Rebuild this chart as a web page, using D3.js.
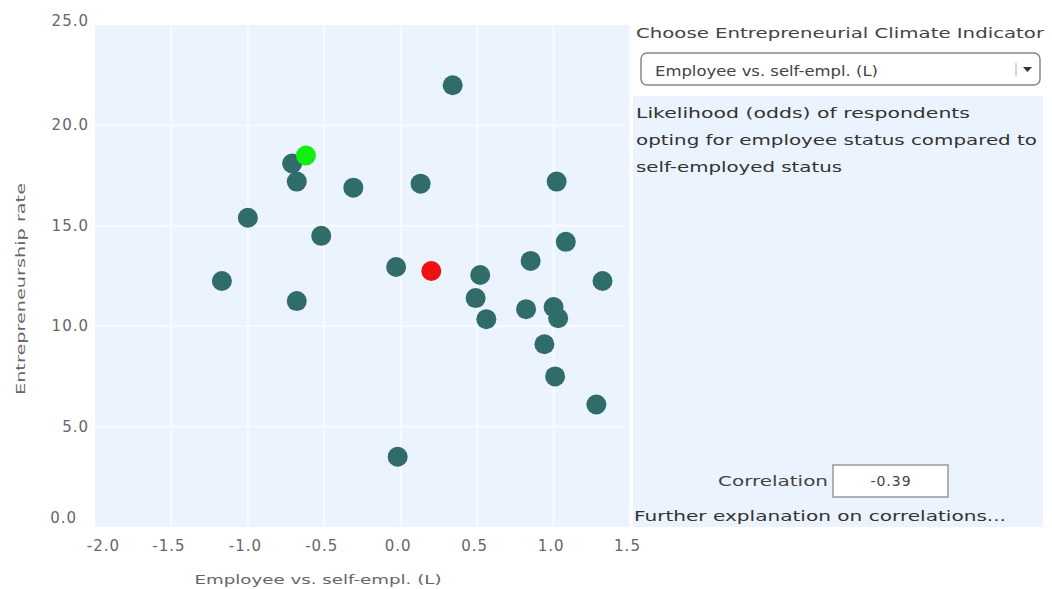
<!DOCTYPE html>
<html>
<head>
<meta charset="utf-8">
<script src="https://cdn.jsdelivr.net/npm/d3@7"></script>
<style>
  body { margin: 0; background: #fff; }
  text { font-family: Verdana, "DejaVu Sans", sans-serif; }
</style>
</head>
<body>
<svg id="chart" width="1052" height="589"></svg>
<script>
// values
const empVsSelf = [0.34, -0.62, -0.71, -0.68, -0.31, 0.13, 1.02, -1.0, -0.52, 1.08, -1.17, -0.03, 0.20, 0.52,
  0.85, 1.32, -0.68, 0.49, 0.56, 0.82, 1.0, 1.03, 0.94, 1.01, 1.28, -0.02];
const entRate = [22.0, 18.5, 18.1, 17.2, 16.9, 17.1, 17.2, 15.4, 14.5, 14.2, 12.25, 12.95, 12.75, 12.55,
  13.25, 12.25, 11.25, 11.4, 10.35, 10.85, 10.95, 10.4, 9.1, 7.5, 6.1, 3.5];
// 0 = country, 1 = selected, 2 = average
const pointKind = [0, 1, 0, 0, 0, 0, 0, 0, 0, 0, 0, 0, 2, 0, 0, 0, 0, 0, 0, 0, 0, 0, 0, 0, 0, 0];
const xTicks = [-2.0, -1.5, -1.0, -0.5, 0.0, 0.5, 1.0, 1.5];
const yTicks = [0, 5, 10, 15, 20, 25];
const correlation = "-0.39";
const indicatorName = "Employee vs. self-empl. (L)";
const descLines = ["Likelihood (odds) of respondents", "opting for employee status compared to", "self-employed status"];

const kindColor = ["#2f6c6a", "#11ee11", "#ee1111"];

const svg = d3.select("#chart");
const x = d3.scaleLinear().domain([-2, 1.5]).range([95, 630]);
const y = d3.scaleLinear().domain([0, 25]).range([527, 25]);

// plot background
svg.append("rect")
  .attr("x", x(-2)).attr("y", y(25))
  .attr("width", x(1.5) - x(-2)).attr("height", y(0) - y(25))
  .attr("fill", "#eaf3fe");

// grid
svg.append("g").selectAll("line").data(xTicks.slice(1)).join("line")
  .attr("x1", d => x(d)).attr("x2", d => x(d))
  .attr("y1", y(25)).attr("y2", y(0))
  .attr("stroke", "#f9fbff").attr("stroke-width", 2);
svg.append("g").selectAll("line").data(yTicks.slice(1, -1)).join("line")
  .attr("x1", x(-2)).attr("x2", x(1.5) - 6)
  .attr("y1", d => y(d)).attr("y2", d => y(d))
  .attr("stroke", "#f9fbff").attr("stroke-width", 2);

const fmt = d => d.toFixed(1);

// axes (labels only)
const xAxis = svg.append("g")
  .attr("transform", `translate(0,${y(0)})`)
  .call(d3.axisBottom(x).tickValues(xTicks).tickFormat(fmt).tickSize(0).tickPadding(13));
xAxis.select(".domain").remove();
xAxis.selectAll("text").attr("fill", "#666").style("font-size", "15px").style("letter-spacing", "1px")
  .attr("dx", d => d === -2 ? 8 : -3);

const yAxis = svg.append("g")
  .attr("transform", `translate(${x(-2) - 4},0)`)
  .call(d3.axisLeft(y).tickValues(yTicks).tickFormat(fmt).tickSize(0).tickPadding(2));
yAxis.select(".domain").remove();
yAxis.selectAll("text").attr("fill", "#666").style("font-size", "15px").style("letter-spacing", "1px")
  .attr("dx", d => d === 0 ? -12 : 0)
  .attr("dy", d => d === 0 ? "-0.3em" : d === 25 ? "0.05em" : "0.3em");

// axis titles
svg.append("text")
  .attr("x", 318).attr("y", 584)
  .attr("text-anchor", "middle").attr("fill", "#666").style("font-size", "13px")
  .attr("textLength", 247).attr("lengthAdjust", "spacingAndGlyphs")
  .text(indicatorName);
svg.append("text")
  .attr("transform", "translate(25,289) rotate(-90)")
  .attr("text-anchor", "middle").attr("fill", "#666").style("font-size", "13px")
  .attr("textLength", 212).attr("lengthAdjust", "spacingAndGlyphs")
  .text("Entrepreneurship rate");

// points
const pts = empVsSelf.map((v, i) => ({x: v, y: entRate[i], k: pointKind[i]}));
svg.append("g").selectAll("circle")
  .data(pts.filter(d => d.k === 0).concat(pts.filter(d => d.k !== 0)))
  .join("circle")
  .attr("cx", d => x(d.x)).attr("cy", d => y(d.y))
  .attr("r", 10)
  .attr("fill", d => kindColor[d.k]);

// right panel
const panel = svg.append("g");
panel.append("rect").attr("x", 633).attr("y", 96).attr("width", 410).attr("height", 431).attr("fill", "#ebf4fe");
panel.append("text").attr("x", 636).attr("y", 38).attr("fill", "#444").style("font-size", "14px")
  .attr("textLength", 408).attr("lengthAdjust", "spacingAndGlyphs")
  .text("Choose Entrepreneurial Climate Indicator");

panel.append("rect").attr("x", 641).attr("y", 53).attr("width", 399).attr("height", 32).attr("rx", 6)
  .attr("fill", "#fff").attr("stroke", "#888").attr("stroke-width", 1.5);
panel.append("text").attr("x", 655).attr("y", 76).attr("fill", "#444").style("font-size", "14px")
  .attr("textLength", 223).attr("lengthAdjust", "spacingAndGlyphs")
  .text(indicatorName);
panel.append("line").attr("x1", 1016).attr("x2", 1016).attr("y1", 63).attr("y2", 76).attr("stroke", "#aaa");
panel.append("path").attr("d", "M1023,67 L1032,67 L1027.5,72 Z").attr("fill", "#333");

panel.selectAll("text.desc").data(descLines).join("text")
  .attr("class", "desc")
  .attr("x", 636).attr("y", (d, i) => 118 + i * 27)
  .attr("fill", "#333").style("font-size", "14px")
  .attr("textLength", (d, i) => [334, 401, 206][i]).attr("lengthAdjust", "spacingAndGlyphs")
  .text(d => d);

panel.append("text").attr("x", 828).attr("y", 486).attr("text-anchor", "end")
  .attr("fill", "#444").style("font-size", "14px")
  .attr("textLength", 110).attr("lengthAdjust", "spacingAndGlyphs")
  .text("Correlation");
panel.append("rect").attr("x", 833).attr("y", 465).attr("width", 115).attr("height", 32)
  .attr("fill", "#fff").attr("stroke", "#999").attr("stroke-width", 1.5);
panel.append("text").attr("x", 891).attr("y", 486).attr("text-anchor", "middle")
  .attr("fill", "#444").style("font-size", "14px").style("letter-spacing", "1px").text(correlation);
panel.append("text").attr("x", 634).attr("y", 521).attr("fill", "#333").style("font-size", "14px")
  .attr("textLength", 372).attr("lengthAdjust", "spacingAndGlyphs")
  .text("Further explanation on correlations...");
</script>
</body>
</html>
